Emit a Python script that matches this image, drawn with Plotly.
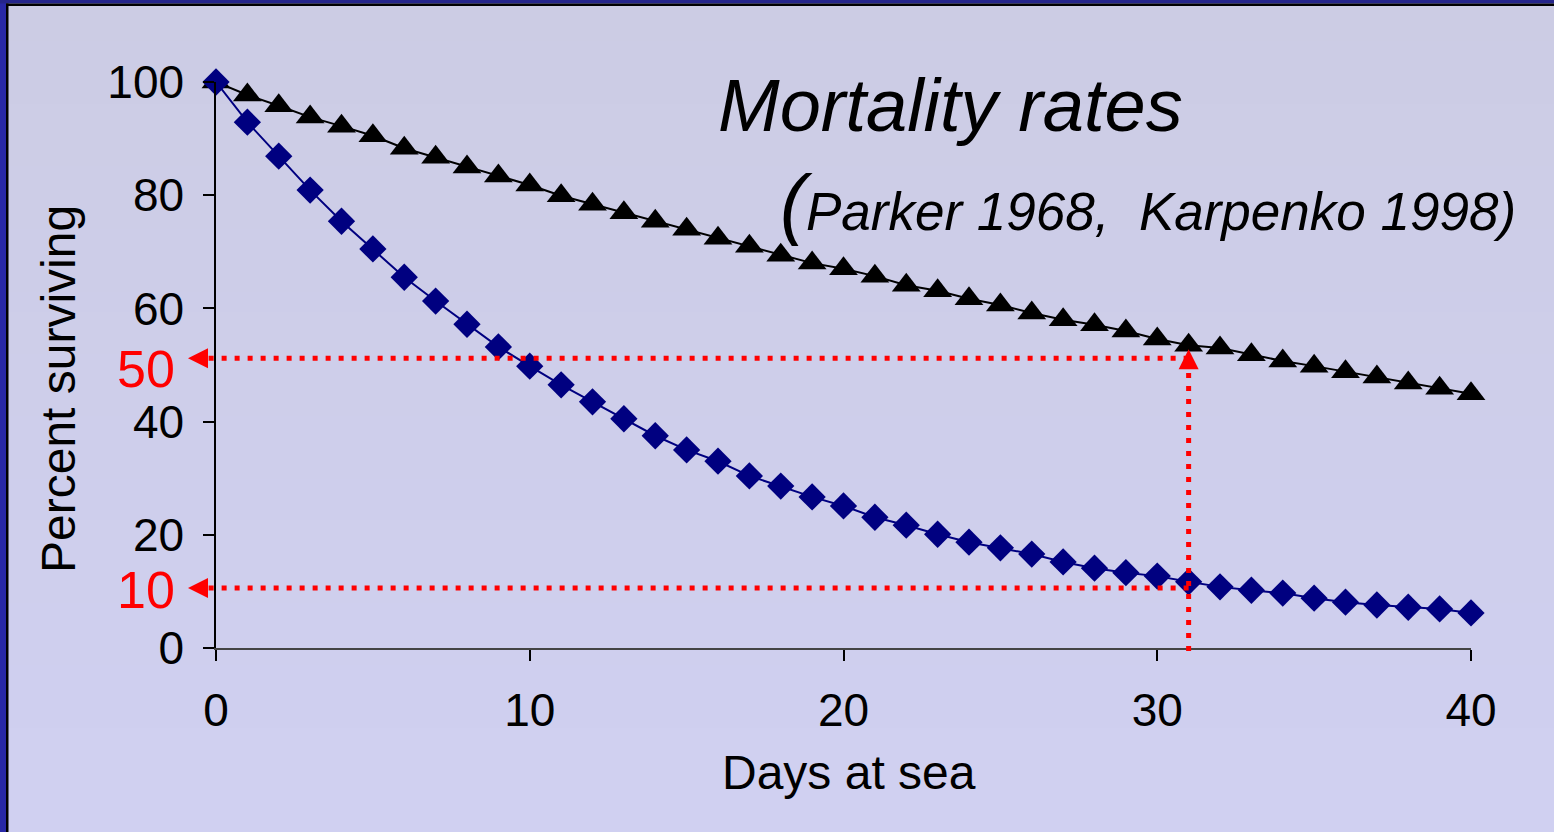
import plotly.graph_objects as go

# ---------------- data ----------------
days = list(range(41))
survival_slow = [100, 97.7, 95.8, 93.8, 92.2, 90.5, 88.3, 86.7, 85.0, 83.4, 81.8,
                 79.9, 78.4, 76.9, 75.4, 74.0, 72.4, 71.0, 69.4, 68.0, 67.0,
                 65.7, 64.1, 63.1, 61.7, 60.6, 59.2, 58.0, 57.1, 56.0, 54.6,
                 53.5, 53.0, 51.8, 50.7, 49.8, 48.8, 47.9, 46.8, 45.9, 44.9]
survival_fast = [100, 92.9, 86.9, 80.9, 75.4, 70.5, 65.5, 61.3, 57.2, 53.2, 49.8,
                 46.5, 43.5, 40.5, 37.5, 35.0, 33.0, 30.4, 28.6, 26.7, 25.1,
                 23.1, 21.7, 20.1, 18.7, 17.7, 16.6, 15.2, 14.1, 13.3, 12.7,
                 11.7, 10.8, 10.2, 9.7, 8.8, 8.1, 7.6, 7.2, 6.9, 6.2]
x_ticks = [0, 10, 20, 30, 40]
y_ticks = [0, 20, 40, 60, 80, 100]
x_range = [0, 40]
y_range = [0, 100]
guide_day = 31
guide_levels = [51.2, 10.6]
guide_labels = ["50", "10"]
guide_label_y = [49.3, 10.2]
vertical_tip = 52.8

W, H = 1554, 832
L, R, T, B = 216, 83, 82, 184
PW, PH = W - L - R, H - T - B
FONT = "Liberation Sans, Arial, sans-serif"
RED = "#FF0000"


def px(xp):
    return (xp - L) / PW


def py(yp):
    return (H - B - yp) / PH


def dx(v):  # data x -> paper
    return (v - x_range[0]) / (x_range[1] - x_range[0])


def dy(v):  # data y -> paper
    return (v - y_range[0]) / (y_range[1] - y_range[0])


fig = go.Figure()

fig.add_trace(go.Scatter(
    x=days, y=survival_slow, mode="lines+markers", cliponaxis=False,
    line=dict(color="#000000", width=2),
    marker=dict(symbol="triangle-up", size=25, color="#000000"),
    showlegend=False))
fig.add_trace(go.Scatter(
    x=days, y=survival_fast, mode="lines+markers", cliponaxis=False,
    line=dict(color="#000080", width=2),
    marker=dict(symbol="diamond", size=21, color="#000080"),
    showlegend=False))

shapes = []
# background gradient
n = 40
top_c = (204, 204, 228)
bot_c = (208, 208, 241)
for i in range(n):
    y0p = H * i / n
    y1p = H * (i + 1) / n + 2
    t = i / (n - 1)
    c = tuple(round(top_c[k] + (bot_c[k] - top_c[k]) * t) for k in range(3))
    shapes.append(dict(type="rect", xref="paper", yref="paper", layer="below",
                       x0=px(0), x1=px(W), y0=py(y1p), y1=py(y0p),
                       fillcolor="rgb(%d,%d,%d)" % c, line=dict(width=0)))
# frame
shapes.append(dict(type="rect", xref="paper", yref="paper", layer="below",
                   x0=px(0), x1=px(6), y0=py(H), y1=py(0),
                   fillcolor="#2828A6", line=dict(width=0)))
shapes.append(dict(type="rect", xref="paper", yref="paper", layer="below",
                   x0=px(0), x1=px(W), y0=py(3.5), y1=py(0),
                   fillcolor="#25258A", line=dict(width=0)))
shapes.append(dict(type="rect", xref="paper", yref="paper", layer="below",
                   x0=px(6), x1=px(W), y0=py(6), y1=py(3.5),
                   fillcolor="#000000", line=dict(width=0)))
shapes.append(dict(type="rect", xref="paper", yref="paper", layer="below",
                   x0=px(6), x1=px(8.5), y0=py(H), y1=py(3.5),
                   fillcolor="#000000", line=dict(width=0)))

# red guide lines with arrowheads (paper coords derived from data values)
head = 20.0
tip_x = dx(x_range[0]) - 28.0 / PW
for lvl in guide_levels:
    yv = dy(lvl)
    shapes.append(dict(type="line", xref="paper", yref="paper", layer="above",
                       x0=dx(guide_day), x1=tip_x + (head - 1) / PW, y0=yv, y1=yv,
                       line=dict(color=RED, width=5, dash="5px,8px")))
    shapes.append(dict(type="path", xref="paper", yref="paper", layer="above",
                       path="M%f,%f L%f,%f L%f,%f Z" % (
                           tip_x, yv,
                           tip_x + head / PW, yv + (head / 2) / PH,
                           tip_x + head / PW, yv - (head / 2) / PH),
                       fillcolor=RED, line=dict(width=0)))
vx = dx(guide_day)
vt = dy(vertical_tip)
shapes.append(dict(type="line", xref="paper", yref="paper", layer="above",
                   x0=vx, x1=vx, y0=dy(y_range[0]) - 3.0 / PH, y1=vt - (head - 1) / PH,
                   line=dict(color=RED, width=5, dash="5px,8px")))
shapes.append(dict(type="path", xref="paper", yref="paper", layer="above",
                   path="M%f,%f L%f,%f L%f,%f Z" % (
                       vx, vt,
                       vx - (head / 2) / PW, vt - head / PH,
                       vx + (head / 2) / PW, vt - head / PH),
                   fillcolor=RED, line=dict(width=0)))

annotations = [
    dict(text="Mortality rates", xref="paper", yref="paper",
         x=px(716), y=py(106), xanchor="left", yanchor="middle", showarrow=False,
         font=dict(family=FONT, size=74, color="#000000", style="italic")),
    dict(text='<span style="font-size:78px">(</span>Parker 1968,\u00a0 Karpenko 1998)',
         xref="paper", yref="paper",
         x=px(778), y=py(203), xanchor="left", yanchor="middle", showarrow=False,
         font=dict(family=FONT, size=53, color="#000000", style="italic")),
    dict(text="Percent surviving", xref="paper", yref="paper",
         x=px(58), y=py(389), textangle=-90, xanchor="center", yanchor="middle",
         showarrow=False, font=dict(family=FONT, size=48, color="#000000")),
    dict(text="Days at sea", xref="paper", yref="paper",
         x=px(849), y=py(772), xanchor="center", yanchor="middle",
         showarrow=False, font=dict(family=FONT, size=48, color="#000000")),
]
for lab, ly in zip(guide_labels, guide_label_y):
    annotations.append(dict(text=lab, xref="paper", yref="paper", x=px(146), y=dy(ly),
                            xanchor="center", yanchor="middle", showarrow=False,
                            font=dict(family=FONT, size=52, color=RED)))

fig.update_layout(
    width=W, height=H,
    margin=dict(l=L, r=R, t=T, b=B, pad=0),
    paper_bgcolor="#CECEEA", plot_bgcolor="rgba(0,0,0,0)",
    shapes=shapes, annotations=annotations,
    xaxis=dict(range=x_range, tickvals=x_ticks, ticks="outside", ticklen=11,
               tickwidth=1.5, tickcolor="#000000", showline=True,
               linecolor="#444444", linewidth=2, showgrid=False, zeroline=False,
               tickfont=dict(family=FONT, size=46, color="#000000"),
               ticklabelstandoff=10),
    yaxis=dict(range=y_range, tickvals=y_ticks, ticks="outside", ticklen=11,
               tickwidth=1.5, tickcolor="#000000", showline=True,
               linecolor="#000000", linewidth=1.5, showgrid=False, zeroline=False,
               tickfont=dict(family=FONT, size=46, color="#000000"),
               ticklabelstandoff=10),
)

fig.write_html("out.html",
               config={"displayModeBar": False},
               post_script="document.body.style.margin='0';"
                           "document.body.style.overflow='hidden';")
